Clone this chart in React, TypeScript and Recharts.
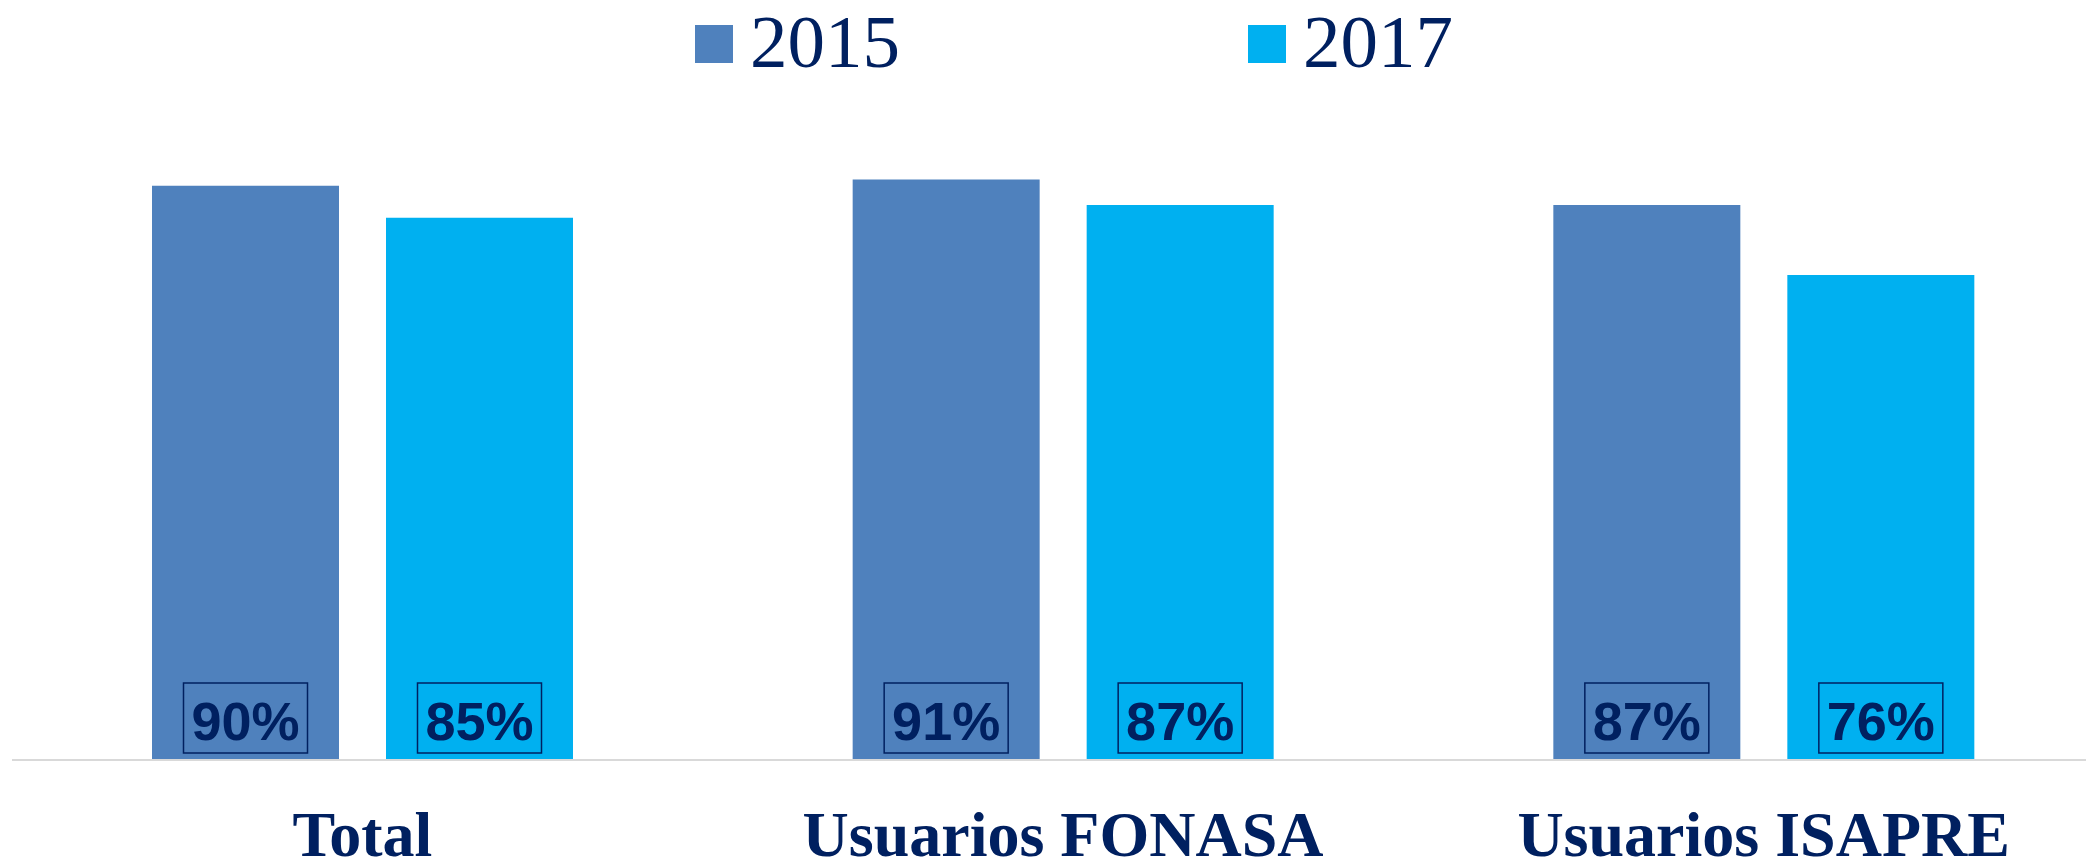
import React from "react";
import { Bar, BarChart, Legend, XAxis, YAxis } from "recharts";

// Porcentaje por grupo de usuarios, 2015 vs 2017.
const categories = ["Total", "Usuarios FONASA", "Usuarios ISAPRE"];
const values2015 = [90, 91, 87];
const values2017 = [85, 87, 76];
const seriesNames = ["2015", "2017"];

const NAVY = "#002060";
const COLORS = ["#4F81BD", "#00B0F0"];

const data = categories.map((c, i) => ({
  name: c,
  [seriesNames[0]]: values2015[i],
  [seriesNames[1]]: values2017[i],
}));

function BoxLabel(props: any) {
  const vb = props.viewBox || {};
  const x = props.x ?? vb.x;
  const y = props.y ?? vb.y;
  const width = props.width ?? vb.width;
  const height = props.height ?? vb.height;
  const cx = x + width / 2;
  const bottom = y + height;
  return (
    <g>
      <rect
        x={cx - 62}
        y={bottom - 77}
        width={124}
        height={70}
        fill="none"
        stroke={NAVY}
        strokeWidth={1.5}
      />
      <text
        x={cx}
        y={bottom - 20}
        textAnchor="middle"
        fill={NAVY}
        fontFamily="'Liberation Sans', Arial, sans-serif"
        fontWeight="bold"
        fontSize={54}
      >
        {`${props.value}%`}
      </text>
    </g>
  );
}

function CategoryTick(props: any) {
  const { x, y, payload } = props;
  return (
    <text
      x={x}
      y={y + 96}
      textAnchor="middle"
      fill={NAVY}
      fontFamily="'Liberation Serif', 'Times New Roman', serif"
      fontWeight="bold"
      fontSize={64}
    >
      {payload.value}
    </text>
  );
}

function LegendContent() {
  return (
    <div style={{ display: "flex", alignItems: "flex-start", paddingLeft: 695 }}>
      {seriesNames.map((s, i) => (
        <div key={s} style={{ display: "flex", alignItems: "flex-start", marginRight: 348 }}>
          <div style={{ width: 38, height: 38, marginTop: 25, background: COLORS[i] }} />
          <span
            style={{
              display: "block",
              marginLeft: 17,
              marginTop: 4,
              lineHeight: "75px",
              fontSize: 75,
              fontFamily: "'Liberation Serif', 'Times New Roman', serif",
              color: NAVY,
            }}
          >
            {s}
          </span>
        </div>
      ))}
    </div>
  );
}

export default function App() {
  return (
    <div
      style={{
        position: "fixed",
        left: 0,
        top: 0,
        width: 2086,
        height: 861,
        overflow: "hidden",
        background: "#fff",
      }}
    >
      <BarChart
        width={2114}
        height={861}
        data={data}
        margin={{ top: 122, right: 0, left: 12, bottom: 0 }}
        barSize={187}
        barGap={47}
      >
        <XAxis
          dataKey="name"
          height={101}
          tickLine={false}
          tickSize={0}
          tickMargin={0}
          axisLine={{ stroke: "#d9d9d9", strokeWidth: 2 }}
          tick={<CategoryTick />}
          interval={0}
        />
        <YAxis hide domain={[0, 100]} />
        <Legend
          layout="horizontal"
          verticalAlign="middle"
          align="center"
          content={<LegendContent />}
          wrapperStyle={{ top: 0, left: 0, width: 2086, height: 90 }}
        />
        <Bar
          dataKey={seriesNames[0]}
          fill={COLORS[0]}
          isAnimationActive={false}
          label={<BoxLabel />}
        />
        <Bar
          dataKey={seriesNames[1]}
          fill={COLORS[1]}
          isAnimationActive={false}
          label={<BoxLabel />}
        />
      </BarChart>
    </div>
  );
}
